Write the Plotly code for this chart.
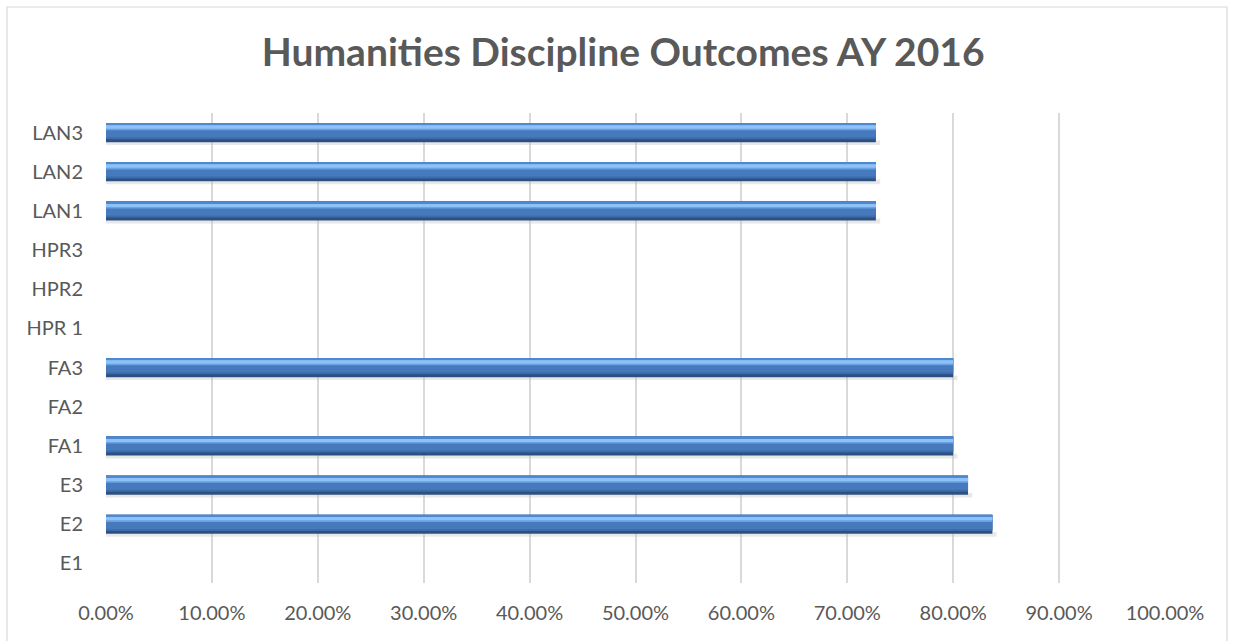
import plotly.graph_objects as go

categories = ["E1", "E2", "E3", "FA1", "FA2", "FA3", "HPR 1", "HPR2", "HPR3", "LAN1", "LAN2", "LAN3"]
values = [None, 0.837, 0.814, 0.800, None, 0.800, None, None, None, 0.727, 0.727, 0.727]
x_ticks = [0.0, 0.1, 0.2, 0.3, 0.4, 0.5, 0.6, 0.7, 0.8, 0.9, 1.0]

title_text = "Humanities Discipline Outcomes AY 2016"

fig = go.Figure()

# layered bars to imitate bevelled 3D look: (color, offset, width, x-shift, opacity)
layers = [
    ("#BFBFBF", -0.32, 0.12, 0.004, 0.35),   # soft shadow
    ("#2C5082", -0.245, 0.49, 0.0, 1.0),     # dark bottom edge
    ("#3D6CAB", -0.17, 0.41, 0.0, 1.0),      # body lower
    ("#4779BD", -0.12, 0.31, 0.0, 1.0),      # body
    ("#6AA1E2", 0.06, 0.15, 0.0, 1.0),       # highlight lower
    ("#8CC2F7", 0.10, 0.09, 0.0, 1.0),       # highlight
    ("#5088CE", 0.20, 0.045, 0.0, 1.0),      # top edge
]

for color, off, w, dx, op in layers:
    xs = [None if v is None else v + dx for v in values]
    fig.add_trace(go.Bar(
        y=categories, x=xs, orientation="h",
        marker=dict(color=color, line=dict(width=0)),
        offset=off, width=w, opacity=op,
        showlegend=False, hoverinfo="skip" if op < 1 else None,
    ))

fig.update_layout(
    width=1234, height=641,
    barmode="overlay",
    paper_bgcolor="white", plot_bgcolor="white",
    margin=dict(l=106, r=69, t=113, b=58),
    title=dict(text="<b>" + title_text + "</b>", x=0.505, xanchor="center",
               y=0.918, yanchor="middle",
               font=dict(family="Lato, Open Sans, sans-serif", size=39, color="#595959")),
    font=dict(family="Lato, Open Sans, sans-serif", size=20, color="#595959"),
    xaxis=dict(range=[0, 1.0], tickvals=x_ticks, tickformat=".2%",
               showgrid=True, gridcolor="#D9D9D9", gridwidth=1.5,
               zeroline=False, showline=False, ticks="",
               tickfont=dict(size=20, color="#595959"), ticklabelstandoff=16),
    yaxis=dict(categoryorder="array", categoryarray=categories,
               showgrid=False, zeroline=False, showline=False, ticks="",
               tickfont=dict(size=20, color="#595959"), ticklabelstandoff=22),
    shapes=[dict(type="rect", xref="paper", yref="paper",
                 x0=(7 - 106) / 1059, x1=(1227 - 106) / 1059,
                 y0=(583 - 645) / 470, y1=(583 - 7) / 470,
                 line=dict(color="#D9D9D9", width=1.2), fillcolor="rgba(0,0,0,0)",
                 layer="below")],
)

fig.write_html("out.html")
